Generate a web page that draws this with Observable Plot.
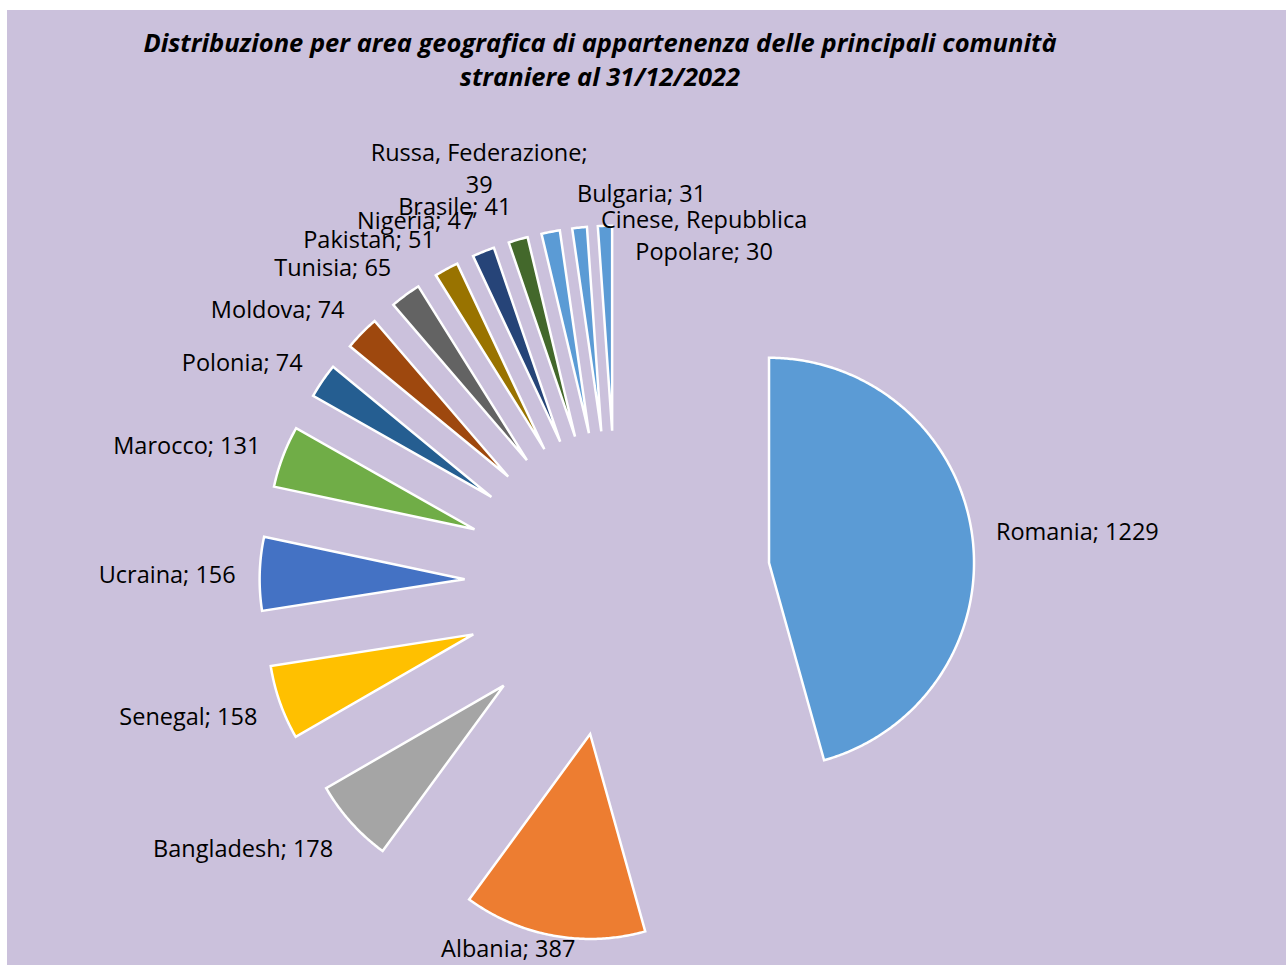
<!DOCTYPE html>
<html><head><meta charset="utf-8">
<script src="https://cdn.jsdelivr.net/npm/d3@7"></script>
<script src="https://cdn.jsdelivr.net/npm/@observablehq/plot@0.6"></script>
<style>
html,body{margin:0;padding:0;background:#fff;}
#chart{position:absolute;left:7px;top:10px;width:1279px;height:955px;background:#CBC1DC;overflow:hidden;}
#title{position:absolute;left:0;top:15px;width:1186px;text-align:center;font-family:"Open Sans",sans-serif;font-weight:bold;font-style:italic;font-size:25.5px;line-height:34px;color:#000;}
#plot{position:absolute;left:0;top:0;}
</style></head><body>
<div id="chart"><div id="plot"></div><div id="title">Distribuzione per area geografica di appartenenza delle principali comunità<br>straniere al 31/12/2022</div></div>
<script>
// ---- data ----
const countries = ["Romania","Albania","Bangladesh","Senegal","Ucraina","Marocco","Polonia","Moldova","Tunisia","Pakistan","Nigeria","Brasile","Russa, Federazione","Bulgaria","Cinese, Repubblica Popolare"];
const residents = [1229,387,178,158,156,131,74,74,65,51,47,41,39,31,30];
const sliceColors = ["#5B9BD5","#ED7D31","#A5A5A5","#FFC000","#4472C4","#70AD47","#255E91","#9E480E","#636363","#997300","#264478","#43682B","#5B9BD5","#5B9BD5","#5B9BD5"];
const labelTexts = ["Romania; 1229","Albania; 387","Bangladesh; 178","Senegal; 158","Ucraina; 156","Marocco; 131","Polonia; 74","Moldova; 74","Tunisia; 65","Pakistan; 51","Nigeria; 47","Brasile; 41","Russa, Federazione;\n39","Bulgaria; 31","Cinese, Repubblica\nPopolare; 30"];

// ---- layout ----
const W = 1279, H = 955;
const PX = 205;            // pixels per unit radius
const cx = 610, cy = 573;  // pie centre in svg pixels
const explode = 0.746;     // slice explosion (fraction of radius)
const PAD = 24 / PX;       // label distance beyond outer edge
const HALF_H = 12 / PX;    // half label height (box placed outward)
const labelNudge = {       // Excel moved these labels to avoid collisions
  "Albania": {anchor: "middle", dx: -41, dy: -13},
  "Russa, Federazione": {anchor: "middle", dx: -67, dy: -42},
  "Cinese, Repubblica Popolare": {anchor: "middle", dx: 100, dy: 32}
};

const arcs = d3.pie().sort(null).value(d => d)(residents);
const slices = arcs.map((p, i) => ({name: countries[i], a0: p.startAngle, a1: p.endAngle, mid: (p.startAngle + p.endAngle) / 2}));

const pts = [];
for (const s of slices) {
  const ox = explode * Math.sin(s.mid), oy = explode * Math.cos(s.mid);
  pts.push({name: s.name, x: ox, y: oy});
  const n = Math.max(2, Math.ceil((s.a1 - s.a0) / (Math.PI / 360)));
  for (let j = 0; j <= n; j++) {
    const a = s.a0 + (s.a1 - s.a0) * j / n;
    pts.push({name: s.name, x: ox + Math.sin(a), y: oy + Math.cos(a)});
  }
}

const labels = slices.map((s, i) => {
  const ux = Math.sin(s.mid), uy = Math.cos(s.mid);
  const r = explode + 1 + PAD;
  let anchor = uy < -0.95 ? "middle" : (ux > -0.12 ? "start" : "end");
  let x = r * ux, y = r * uy;
  const nd = labelNudge[s.name];
  if (nd) { anchor = nd.anchor; x += nd.dx / PX; y -= nd.dy / PX; }
  else { y += uy * HALF_H; }
  return {text: labelTexts[i], x, y, anchor};
});

const textOpts = a => ({x: "x", y: "y", text: "text", textAnchor: a, fontSize: 23.5, fontFamily: "Open Sans", fill: "#000", lineHeight: 1.37});

const chart = Plot.plot({
  width: W, height: H,
  margin: 0,
  style: {background: "transparent", overflow: "visible"},
  x: {domain: [-cx / PX, (W - cx) / PX], range: [0, W], axis: null},
  y: {domain: [-(H - cy) / PX, cy / PX], range: [H, 0], axis: null},
  color: {domain: countries, range: sliceColors},
  marks: [
    Plot.line(pts, {x: "x", y: "y", z: "name", fill: "name", stroke: "white", strokeWidth: 2.5, curve: "linear-closed", strokeLinejoin: "miter", strokeMiterlimit: 4}),
    ...["start", "middle", "end"].map(a => Plot.text(labels.filter(d => d.anchor === a), textOpts(a)))
  ]
});
document.getElementById("plot").appendChild(chart);
</script>
</body></html>
